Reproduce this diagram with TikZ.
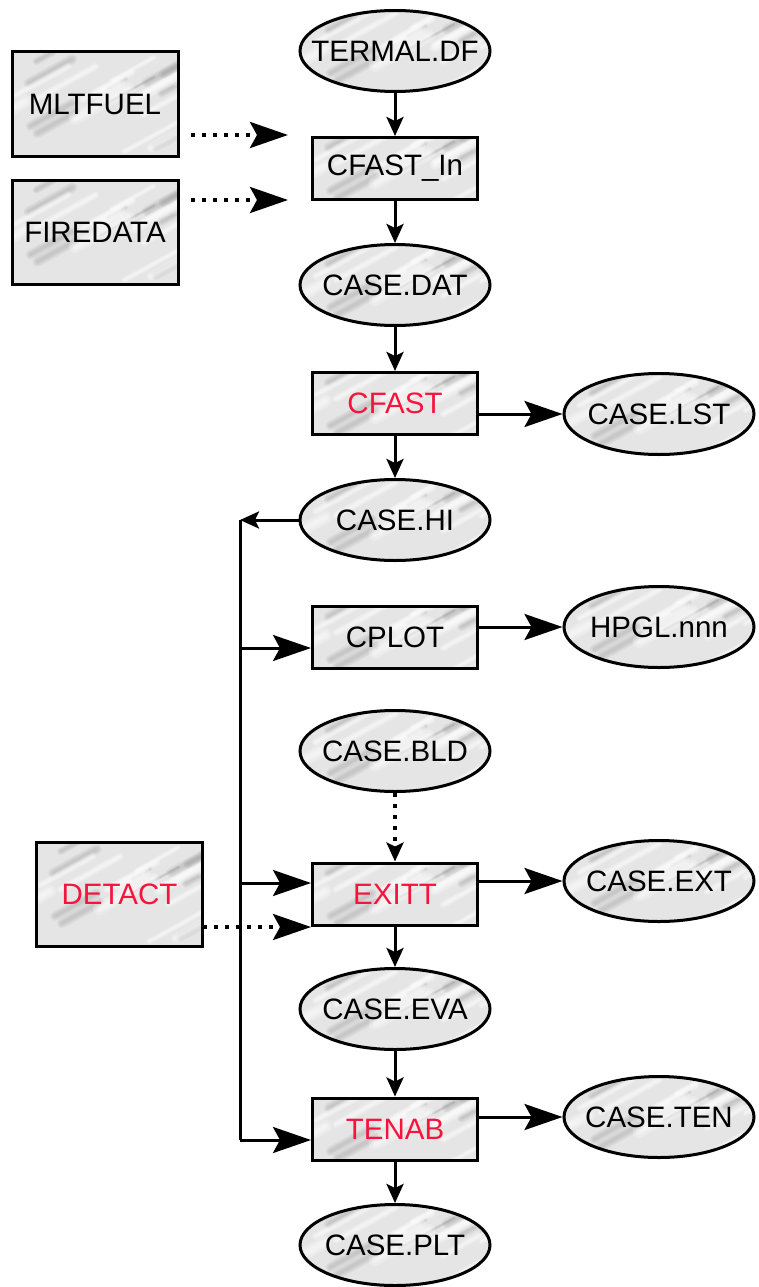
\documentclass[tikz,border=0pt]{standalone}
\usepackage{fontspec}
\setmainfont{Liberation Sans}
\usetikzlibrary{shapes.geometric,arrows.meta,calc}
\definecolor{hot}{RGB}{245,20,60}
\newcommand\marblestreaks{%
  \pgfmathsetseed{12}%
  \foreach \k in {1,...,14}{%
    \pgfmathsetmacro\dx{rand*100}%
    \pgfmathsetmacro\dy{rand*50}%
    \pgfmathsetmacro\len{15+rnd*45}%
    \pgfmathsetmacro\lw{3+rnd*7}%
    \foreach \f in {1,0.65,0.35}{%
      \draw[line width=\f*\lw pt, line cap=round, draw=black!45, opacity=0.12]
        ([shift={(\dx,\dy)}]path picture bounding box.center) -- ++(\len,-0.55*\len);
    }%
  }%
  \foreach \k in {1,...,14}{%
    \pgfmathsetmacro\dx{rand*100}%
    \pgfmathsetmacro\dy{rand*50}%
    \pgfmathsetmacro\len{20+rnd*50}%
    \pgfmathsetmacro\lw{5+rnd*9}%
    \foreach \f in {1,0.6,0.3}{%
      \draw[line width=\f*\lw pt, line cap=round, draw=white, opacity=0.25]
        ([shift={(\dx,\dy)}]path picture bounding box.center) -- ++(\len,-0.55*\len);
    }%
  }%
}
\tikzset{
  marble/.style={fill=gray!20, path picture={\marblestreaks}},
  lbl/.style={font=\fontsize{29.5}{34}\selectfont},
  boxnode/.style={rectangle, draw, line width=3pt, minimum width=165pt,
    minimum height=62pt, inner sep=0pt, marble, lbl},
  bigbox/.style={boxnode, minimum width=166pt, minimum height=104pt},
  ellnode/.style={ellipse, draw, line width=3pt, minimum width=190pt,
    minimum height=81pt, inner sep=0pt, marble, label={[lbl]center:#1}},
  conn/.style={line width=3pt},
  smallarr/.style={conn, -{Stealth[length=19pt,width=17pt,inset=4pt]}},
  bigarr/.style={conn, -{Stealth[length=38pt,width=26pt,inset=7pt]}},
  dotline/.style={line width=3.6pt, dash pattern=on 3.6pt off 7.4pt},
}
\begin{document}
\begin{tikzpicture}[x=1pt,y=-1pt]
\useasboundingbox (0,0) rectangle (758,1287);
% nodes
\node[ellnode={TERMAL.DF}] (termal) at (395,51) {};
\node[boxnode] (cfastin) at (395,168.5) {CFAST\_In};
\node[ellnode={CASE.DAT}] (casedat) at (395,285) {};
\node[boxnode, text=hot] (cfast) at (395,403.5) {CFAST};
\node[ellnode={CASE.LST}] (caselst) at (659,414) {};
\node[ellnode={CASE.HI}] (casehi) at (395,520) {};
\node[boxnode] (cplot) at (395,637.5) {CPLOT};
\node[ellnode={HPGL.nnn}] (hpgl) at (659,627) {};
\node[ellnode={CASE.BLD}] (casebld) at (395,751) {};
\node[boxnode, text=hot] (exitt) at (395,894) {EXITT};
\node[ellnode={CASE.EXT}] (caseext) at (659,881) {};
\node[ellnode={CASE.EVA}] (caseeva) at (395,1009) {};
\node[boxnode, text=hot] (tenab) at (395,1129) {TENAB};
\node[ellnode={CASE.TEN}] (caseten) at (659,1117) {};
\node[ellnode={CASE.PLT}] (caseplt) at (395,1245) {};
\node[bigbox] (mltfuel) at (95,104) {MLTFUEL};
\node[bigbox] (firedata) at (95,232.5) {FIREDATA};
\node[bigbox, text=hot] (detact) at (119.5,894) {DETACT};
% coordinates
\coordinate (m1) at (191,135);
\coordinate (m2) at (288,135);
\coordinate (f1) at (191,200);
\coordinate (f2) at (288,200);
\coordinate (bustop) at (240,520);
\coordinate (b1) at (240,648);
\coordinate (b2) at (240,883);
\coordinate (b3) at (240,1140);
\coordinate (dt) at (203,927);
% main chain
\draw[smallarr] (termal.south) -- (cfastin.north);
\draw[smallarr] (cfastin.south) -- (casedat.north);
\draw[smallarr] (casedat.south) -- (cfast.north);
\draw[smallarr] (cfast.south) -- (casehi.north);
\draw[smallarr] (exitt.south) -- (caseeva.north);
\draw[smallarr] (caseeva.south) -- (tenab.north);
\draw[smallarr] (tenab.south) -- (caseplt.north);
\draw[smallarr, dotline] (casebld.south) -- (exitt.north);
% outputs
\draw[bigarr] (cfast.east |- caselst.west) -- (caselst.west);
\draw[bigarr] (cplot.east |- hpgl.west) -- (hpgl.west);
\draw[bigarr] (exitt.east |- caseext.west) -- (caseext.west);
\draw[bigarr] (tenab.east |- caseten.west) -- (caseten.west);
% inputs
\draw[bigarr, dotline] (m1) -- (m2);
\draw[bigarr, dotline] (f1) -- (f2);
\draw[bigarr, dotline] (dt) -- (dt -| exitt.west);
% bus
\draw[smallarr] (casehi.west) -- (bustop);
\draw[conn] (bustop) -- (b3);
\draw[bigarr] (b1) -- (b1 -| cplot.west);
\draw[bigarr] (b2) -- (b2 -| exitt.west);
\draw[bigarr] (b3) -- (b3 -| tenab.west);
\end{tikzpicture}
\end{document}
